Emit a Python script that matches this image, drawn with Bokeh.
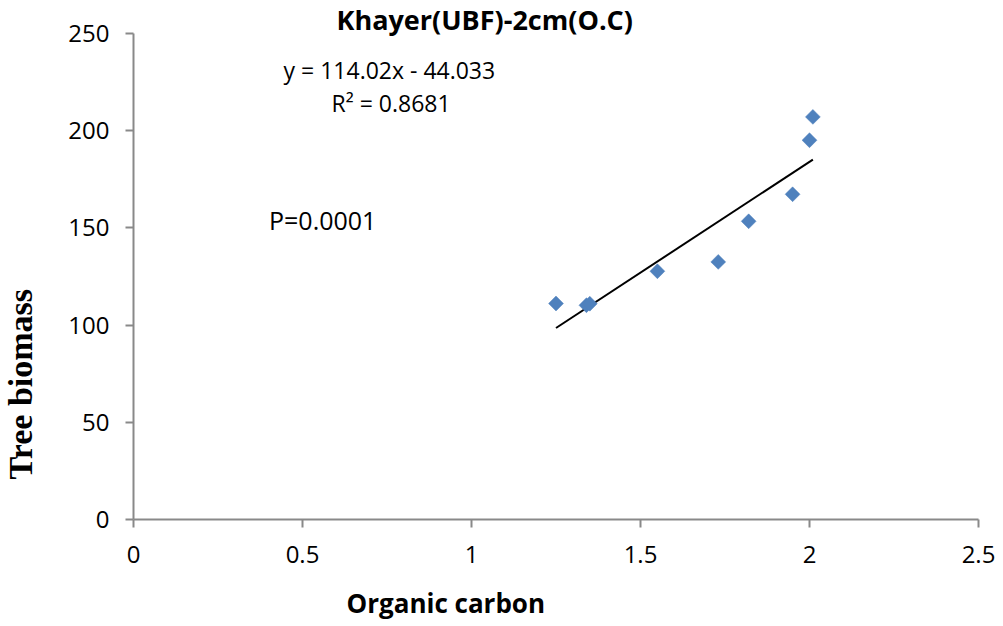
import math
from bokeh.plotting import figure
from bokeh.layouts import row
from bokeh.models import Range1d, Label, FixedTicker, Title
from bokeh.embed import file_html
from bokeh.resources import INLINE

# ---- data ----
organic_carbon = [1.25, 1.34, 1.35, 1.55, 1.73, 1.82, 1.95, 2.00, 2.01]
tree_biomass = [111.1, 110.2, 111.0, 127.7, 132.5, 153.4, 167.3, 195.1, 207.1]
trend_slope = 114.02
trend_intercept = -44.033
x_ticks = [0, 0.5, 1, 1.5, 2, 2.5]
x_tick_labels = ["0", "0.5", "1", "1.5", "2", "2.5"]
y_ticks = [0, 50, 100, 150, 200, 250]
title_text = "Khayer(UBF)-2cm(O.C)"
eq_text = "y = 114.02x - 44.033"
r2_text = "R\u00b2 = 0.8681"
p_text = "P=0.0001"
x_label = "Organic carbon"
y_label = "Tree biomass"

FONT = "Open Sans"
AXIS_COLOR = "#898989"
TOTAL_W, TOTAL_H = 1003, 626
SIDE_W = 60
BORDER_TOP, BORDER_BOTTOM = 33, 107

# ---- narrow strip holding the vertical axis title (same vertical frame as the chart) ----
side = figure(width=SIDE_W, height=TOTAL_H, output_backend="svg", toolbar_location=None,
              x_range=Range1d(0, SIDE_W), y_range=Range1d(0, 250),
              x_axis_location=None, y_axis_location=None,
              min_border_left=0, min_border_right=0,
              min_border_top=BORDER_TOP, min_border_bottom=BORDER_BOTTOM)
side.outline_line_color = None
side.grid.visible = False
side.add_layout(Label(x=20, y=69.6, text=y_label, text_font="Liberation Serif",
                      text_font_size="34px", text_font_style="bold", text_color="black",
                      angle=math.pi / 2, text_align="center", text_baseline="middle"))

# ---- main chart ----
p = figure(width=TOTAL_W - SIDE_W, height=TOTAL_H, output_backend="svg",
           toolbar_location=None,
           x_range=Range1d(0, 2.5), y_range=Range1d(0, 250),
           min_border_left=133 - SIDE_W, min_border_right=25,
           min_border_top=BORDER_TOP, min_border_bottom=BORDER_BOTTOM)
p.outline_line_color = None
p.background_fill_color = "white"
p.border_fill_color = "white"
p.grid.visible = False

p.title.text = title_text
p.title.text_font = FONT
p.title.text_font_size = "27px"
p.title.text_font_style = "bold"
p.title.text_color = "black"
p.title.align = "left"
p.title.offset = 203
p.title.standoff = -8

for ax in (p.xaxis[0], p.yaxis[0]):
    ax.axis_line_color = AXIS_COLOR
    ax.axis_line_width = 2
    ax.major_tick_line_color = AXIS_COLOR
    ax.major_tick_line_width = 2
    ax.major_tick_in = 0
    ax.major_tick_out = 8
    ax.minor_tick_line_color = None
    ax.major_label_text_font = FONT
    ax.major_label_text_font_size = "24px"
    ax.major_label_text_color = "black"

p.xaxis[0].major_label_standoff = 18
p.yaxis[0].major_label_standoff = 16
p.xaxis[0].ticker = FixedTicker(ticks=x_ticks)
p.xaxis[0].major_label_overrides = {t: l for t, l in zip(x_ticks, x_tick_labels)}
p.yaxis[0].ticker = FixedTicker(ticks=y_ticks)
# blank axis label only reserves vertical room so the offset title below sits lower
p.xaxis[0].axis_label = " "
p.xaxis[0].axis_label_text_font_size = "1px"
p.xaxis[0].axis_label_standoff = 8

p.add_layout(Title(text=x_label, text_font=FONT, text_font_size="26px",
                   text_font_style="bold", text_color="black",
                   align="left", offset=213, standoff=10), "below")

x0, x1 = min(organic_carbon), max(organic_carbon)
p.line([x0, x1], [trend_slope * x0 + trend_intercept, trend_slope * x1 + trend_intercept],
       line_color="black", line_width=2)

p.scatter(organic_carbon, tree_biomass, marker="square", angle=math.pi / 4,
          size=10.5, fill_color="#4F81BD", line_color="#4F81BD", line_width=0.5)

def add_label(x, y, text, size):
    p.add_layout(Label(x=x, y=y, text=text, text_font=FONT, text_font_size=size,
                       text_color="black", text_align="left",
                       text_baseline="alphabetic"))

add_label(0.444, 231.0, eq_text, "23px")
add_label(0.586, 214.3, r2_text, "23px")
add_label(0.401, 153.9, p_text, "25px")

layout = row(side, p)
open("out.html", "w").write(file_html(layout, INLINE))
